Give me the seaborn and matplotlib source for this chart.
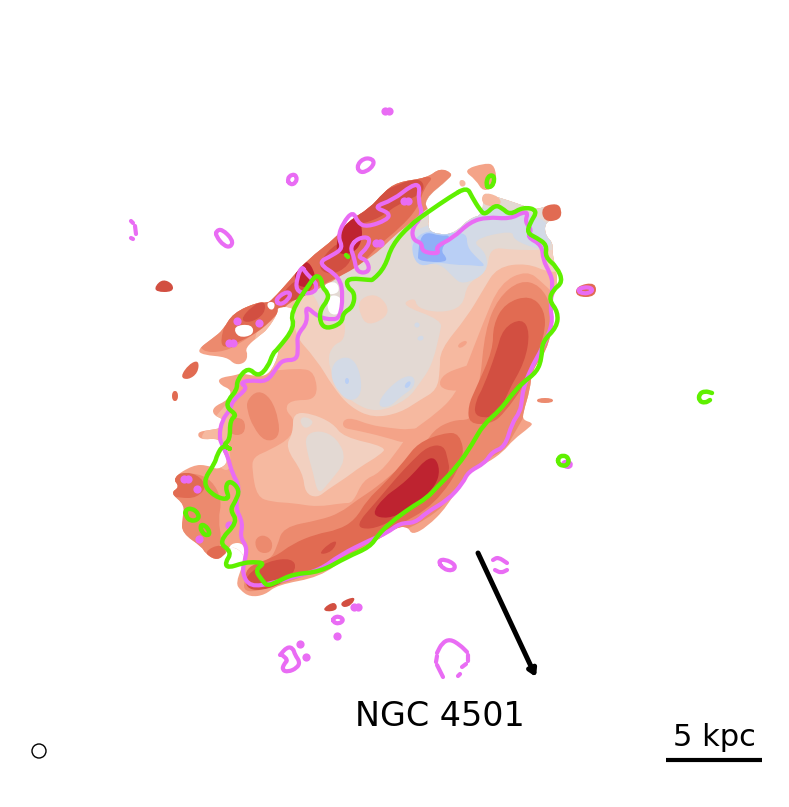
import matplotlib
matplotlib.use("Agg")
import matplotlib.pyplot as plt
from matplotlib.patches import Circle, PathPatch
from matplotlib.path import Path
import seaborn as sns

# cores dos niveis (azul -> vermelho)
B3, B2, B1, N0 = "#8fb0f7", "#b9cff5", "#d3dae6", "#e3d9d3"
W1, W2, W3, W4 = "#f2d0c0", "#f6b9a0", "#f4a388", "#ec8a6e"
W5, W6, W7 = "#e16b52", "#d24f41", "#be2330"
MAGENTA = "#e96cf4"
GREEN = "#5ff000"

# --- contornos (pixels) ---
body = [(197,350),(203,355),(227,357),(235,365),(245,363),(248,355),(245,348),(260,335),(267,330),(278,313),(277,307),
        (293,307),(297,317),(290,330),(278,350),(278,357),(270,373),(260,377),(240,373),(237,375),(218,378),(220,385),
        (232,390),(228,400),(213,407),(213,415),(225,420),(222,428),(210,430),(197,432),(200,440),(220,438),(222,450),
        (229,462),(218,470),(207,465),(193,465),(172,478),(180,487),(170,493),(185,505),(182,520),(182,533),(202,547),
        (205,553),(215,560),(223,557),(232,545),(245,555),(242,567),(236,583),(240,590),(250,597),(265,595),(277,585),
        (320,577),(347,557),(373,543),(397,527),(408,527),(412,535),(427,527),(447,507),(467,473),(487,463),(503,452),
        (513,440),(530,427),(533,423),(523,420),(523,413),(530,390),(532,370),(547,350),(553,323),(548,307),(557,290),
        (557,273),(552,253),(553,243),(545,235),(545,222),(558,218),(560,208),(550,205),(535,210),(527,207),(507,200),
        (490,195),(483,193),(483,215),(470,218),(455,233),(440,235),(427,230),(430,213),(423,200),(450,178),(452,173),
        (440,168),(427,178),(397,182),(383,193),(370,208),(347,222),(337,237),(307,260),(290,280),(272,300),(267,303),
        (258,302),(233,313),(223,330),(213,338)]

w2_main = [(262,372),(300,368),(315,372),(318,400),(290,400),(285,410),(295,420),(292,437),(270,450),(253,457),(252,470),
           (257,497),(272,502),(293,503),(317,507),(343,503),(353,503),(363,480),(380,473),(400,447),(410,432),(437,413),
           (455,395),(465,370),(483,323),(500,283),(527,270),(543,283),(560,300),(570,200),(420,160),(280,290),(250,340)]
w2_rim = [(205,430),(225,405),(232,400),(228,440),(232,470),(220,470),(200,440)]
w1_main = [(317,360),(333,387),(350,407),(373,418),(400,413),(420,400),(437,390),(440,370),(440,350),(467,317),(483,290),
           (497,267),(527,263),(550,273),(570,270),(570,190),(420,165),(300,270),(290,330)]
w1_tongue = [(293,413),(310,413),(333,423),(343,437),(387,447),(380,455),(360,467),(347,477),(327,490),(317,498),(305,493),
             (303,473),(285,447),(293,433)]
n0_main = [(300,280),(420,170),(570,190),(570,250),(543,250),(513,250),(490,247),(487,273),(467,283),(463,307),(440,313),
           (417,308),(415,297),(400,305),(442,320),(440,333),(432,365),(420,383),(407,400),(377,413),(353,403),(337,387),
           (327,360),(333,345),(345,340),(345,318),(333,325),(322,320),(318,300)]
n0_tongue = [(305,435),(320,430),(337,438),(347,460),(328,484),(318,495),(313,472),(307,452)]
n0_dot = [(299,420),(305,416),(315,422),(305,430)]
w1_patch = [(358,300),(375,293),(388,305),(387,317),(368,326),(360,315)]

b1_north = [(412,250),(417,265),(440,263),(453,277),(463,285),(487,273),(487,253),(470,240),(513,230),(513,240),(540,250),
            (553,247),(548,215),(470,205),(430,225),(410,232)]
b1_west = [(335,360),(350,356),(360,370),(362,395),(350,402),(338,392),(330,375)]
b1_east = [(378,407),(382,395),(400,378),(414,375),(415,387),(400,397),(390,407)]
b1_dot_a = [(414,323),(419,322),(420,327),(415,328)]
b1_dot_b = [(417,337),(423,335),(424,340),(418,341)]
b2_north = [(413,240),(412,255),(420,267),(437,262),(455,265),(470,265),(487,267),(477,258),(467,247),(467,233),(450,233),(427,230)]
b2_dot_a = [(345,378),(349,378),(349,384),(345,384)]
b2_dot_b = [(404,385),(410,380),(411,385),(406,389)]
b3_north = [(420,238),(427,232),(440,236),(452,235),(440,250),(447,258),(445,262),(430,262),(418,260),(418,255)]

w3_band = [(343,420),(352,418),(370,425),(390,428),(410,430),(430,425),(410,445),(385,437),(355,430),(343,428)]
w3_patch = [(438,387),(443,374),(465,366),(477,363),(482,386),(455,392)]
w3_dot = [(457,345),(465,340),(468,343),(460,349)]

w4_south = [(250,567),(270,560),(277,547),(283,527),(320,520),(340,513),(357,500),(377,487),(400,467),(420,453),(433,430),
            (453,420),(470,420),(473,410),(480,383),(485,330),(498,298),(520,280),(540,285),(552,307),(555,340),(545,360),
            (530,400),(525,415),(515,432),(505,450),(485,460),(465,480),(445,505),(425,520),(405,530),(375,540),(340,560),
            (320,570),(280,585),(240,595)]
w4_west_a = [(247,400),(258,390),(271,398),(279,420),(279,438),(265,442),(253,427),(247,410)]
w4_west_b = [(229,418),(245,418),(245,435),(229,435)]
w4_spot = [(254,540),(263,534),(273,541),(271,553),(258,553)]
w5_south = [(355,520),(367,500),(385,483),(405,460),(418,443),(443,433),(460,433),(465,460),(435,505),(395,527),(350,552),
            (300,577),(250,590),(243,568),(275,557),(292,544),(316,534),(338,530)]
w5_east = [(530,295),(545,310),(545,335),(528,380),(503,415),(490,424),(469,424),(468,406),(476,388),(493,350),(493,325),(505,303)]
w6_south = [(355,526),(376,502),(397,477),(412,461),(428,446),(444,445),(448,460),(450,472),(434,494),(412,510),(392,521),(370,530)]
w6_east = [(522,318),(530,332),(525,362),(507,393),(500,414),(490,418),(474,416),(476,400),(483,388),(496,353),(503,328)]
w6_base = [(246,575),(268,561),(292,558),(297,569),(282,584),(260,591),(246,588)]
w6_fleck = [(318,555),(328,544),(338,540),(332,552)]
w7_south = [(371,515),(384,497),(400,486),(413,474),(425,460),(435,457),(440,470),(436,485),(421,500),(405,511),(388,519)]

west_w4 = [(170,493),(172,478),(193,472),(212,480),(222,500),(218,520),(222,540),(215,560),(205,553),(182,533),(182,520),(185,505)]
west_w5 = [(168,495),(170,476),(192,471),(208,485),(197,498),(180,498)]
west_w5b = [(203,552),(222,543),(228,556),(215,562)]

fil_w4 = [(200,352),(225,352),(245,340),(268,325),(285,305),(300,296),(322,288),(345,273),(375,255),(395,235),(412,222),
          (425,210),(460,185),(460,165),(380,180),(300,240),(200,335)]
fil_w5 = [(218,350),(240,342),(264,328),(282,308),(304,294),(332,280),(360,266),(380,244),(400,228),(418,208),(424,188),
          (436,174),(385,182),(335,230),(295,258),(262,295),(228,312)]
fil_w6_a = [(240,320),(252,306),(265,300),(265,314),(250,323)]
fil_w6_b = [(276,303),(294,279),(316,276),(309,295),(290,302)]
fil_w6_c = [(316,266),(338,240),(354,248),(349,266),(330,276)]
fil_w6_d = [(355,226),(352,204),(385,190),(420,176),(426,192),(398,204),(380,218)]
fil_w7_a = [(336,245),(340,228),(354,213),(362,224),(362,243),(352,254),(338,254)]
fil_w7_b = [(293,275),(306,258),(316,274),(313,287),(298,287)]

hole_a = [(233,326),(252,324),(254,335),(238,338)]
hole_b = [(267,302),(275,302),(274,310),(268,309)]
hole_c = [(323,284),(337,281),(340,293),(326,295)]
hole_d = [(327,295),(342,296),(342,314),(328,315)]
hole_e = [(230,543),(245,543),(246,564),(237,565),(228,555)]

# ilhas fora do corpo
islands = [
    (W6, [(155,286),(163,279),(173,284),(173,292),(156,292)]),
    (W5, [(172,391),(178,391),(178,401),(172,401)]),
    (W5, [(180,377),(189,364),(199,360),(198,373),(188,380)]),
    (W5, [(576,286),(596,282),(596,297),(576,297)]),
    (W4, [(537,398),(553,398),(553,403),(537,403)]),
    (W6, [(323,608),(335,601),(338,610),(326,612)]),
    (W6, [(340,602),(356,596),(352,605),(343,608)]),
    (W3, [(463,170),(485,163),(495,165),(497,186),(483,192),(476,180)]),
    (W2, [(459,180),(465,180),(466,186),(460,187)]),
    (W2, [(482,192),(499,196),(502,206),(482,206)]),
    (W5, [(541,207),(557,203),(562,210),(560,220),(544,222)]),
]

# linhas verdes
green_main = [(467,187),(472,197),(480,210),(485,215),(495,205),(502,208),(510,215),(523,207),(538,210),(530,223),(527,233),
              (537,238),(547,245),(545,257),(557,267),(563,282),(553,290),(549,300),(558,312),(557,327),(542,342),(542,357),
              (537,372),(522,383),(510,397),(500,410),(483,425),(473,443),(457,467),(437,487),(427,498),(410,508),(390,523),
              (378,535),(370,547),(347,557),(320,572),(293,574),(277,582),(267,586),(262,580),(255,570),(265,563),(253,562),
              (243,563),(228,568),(225,563),(232,552),(218,542),(238,522),(230,510),(235,502),(240,490),(230,480),(225,487),
              (230,500),(215,497),(202,483),(215,463),(217,455),(223,445),(232,450),(223,445),(230,440),(230,420),(237,415),
              (227,408),(228,400),(237,390),(237,380),(248,367),(258,377),(268,367),(273,353),(277,350),(295,327),(290,313),
              (312,280),(317,275),(322,280),(322,287),(328,293),(328,300),(320,310),(320,323),(327,329),(342,323),(343,313),
              (353,307),(355,293),(347,287),(347,278),(370,280),(373,280),(385,267),(392,245),(410,225),(428,212),(450,197),(467,187)]
green_rest = [
    [(486,185),(488,176),(494,175),(494,184),(489,188),(486,185)],
    [(558,458),(563,455),(569,458),(568,465),(562,466),(558,463),(558,458)],
    [(712,393),(705,391),(699,394),(699,401),(705,403),(710,400)],
    [(185,510),(192,508),(199,514),(198,520),(190,521),(186,516),(185,510)],
    [(200,525),(205,525),(210,532),(208,536),(202,533),(200,525)],
    [(346,255),(348,257)],
]

# linhas magenta
magenta_main = [(412,228),(413,240),(422,243),(422,252),(440,254),(435,247),(453,238),(470,222),(487,217),(510,219),(523,212),
                (528,213),(525,222),(532,230),(527,237),(542,245),(543,260),(550,273),(553,283),(550,307),(553,323),(543,347),
                (530,370),(523,390),(522,400),(520,412),(512,423),(505,447),(492,452),(485,463),(468,472),(463,483),(448,500),
                (427,512),(415,523),(400,523),(387,533),(370,540),(340,555),(320,570),(293,577),(273,583),(250,587),(242,573),
                (245,560),(247,547),(240,537),(243,523),(235,507),(240,487),(232,473),(228,457),(223,447),(219,437),(222,420),
                (230,410),(233,400),(248,388),(240,383),(250,380),(267,382),(277,367),(283,360),(297,360),(298,347),(297,335),
                (308,322),(305,305),(318,317),(333,320),(340,317),(343,297),(340,277),(317,263),(333,255),(343,248),(338,237),
                (343,223),(353,211),(358,223),(367,227),(387,220),(390,213),(373,207),(393,200),(412,185),(420,185),(418,200),
                (423,215),(412,228)]
magenta_rest = [
    [(358,238),(370,237),(368,247),(357,257),(367,260),(370,272),(357,273),(354,257),(350,247),(358,238)],
    [(275,300),(285,292),(291,293),(288,300),(280,305),(275,300)],
    [(302,266),(297,278),(296,290),(305,294),(315,292),(317,285),(313,280),(305,272),(302,266)],
    [(357,165),(364,158),(373,159),(374,165),(366,172),(359,172),(357,165)],
    [(287,179),(292,174),(297,176),(296,183),(290,185),(287,179)],
    [(216,231),(222,229),(233,240),(231,247),(224,246),(216,236),(216,231)],
    [(577,290),(584,287),(592,288),(592,292),(583,294),(577,290)],
    [(562,463),(568,461),(572,465),(567,468),(562,463)],
    [(438,561),(445,559),(456,565),(453,571),(443,569),(438,561)],
    [(493,560),(498,557),(507,563)],
    [(495,570),(501,573),(507,570)],
    [(280,655),(287,647),(293,648),(295,655),(300,662),(297,668),(288,672),(282,670),(284,664),(288,660),(282,655)],
    [(333,618),(339,616),(344,620),(339,624),(333,622),(333,618)],
    [(437,653),(442,643),(450,639),(460,645),(467,652)],
    [(468,655),(468,661)],
    [(462,667),(466,664)],
    [(458,676),(460,674)],
    [(437,656),(436,662)],
    [(437,665),(443,677)],
    [(131,221),(133,223)],
    [(135,226),(136,234)],
    [(131,238),(133,239)],
]
magenta_dots = [(237,321),(259,323),(229,343),(233,343),(404,201),(408,201),(376,243),(380,243),(385,111),(389,111),
                (300,644),(306,657),(354,607),(358,607),(337,636),(184,479),(188,479),(197,489),(229,525),(199,539)]

arrow_from = (478,553)
arrow_to = (536,677)
scale_bar_x = [666,762]
scale_bar_y = [760,760]


def caminho_suave(pontos):
    # curva quadratica passando pelos pontos medios, os pontos lidos ficam como controle
    if len(pontos) == 2:
        return Path(pontos, [Path.MOVETO, Path.LINETO])
    fechado = pontos[0] == pontos[-1]
    pts = pontos[:-1] if fechado else pontos
    n = len(pts)
    meio = lambda a, b: ((a[0] + b[0]) / 2, (a[1] + b[1]) / 2)
    if fechado:
        v = [meio(pts[-1], pts[0])]
        c = [Path.MOVETO]
        for i in range(n):
            v += [pts[i], meio(pts[i], pts[(i + 1) % n])]
            c += [Path.CURVE3, Path.CURVE3]
    else:
        v = [pts[0], meio(pts[0], pts[1])]
        c = [Path.MOVETO, Path.LINETO]
        for i in range(1, n - 1):
            v += [pts[i], meio(pts[i], pts[i + 1])]
            c += [Path.CURVE3, Path.CURVE3]
        v.append(pts[-1])
        c.append(Path.LINETO)
    return Path(v, c)


def area(pontos, cor):
    p = PathPatch(caminho_suave(pontos + [pontos[0]]), facecolor=cor, edgecolor="none")
    ax.add_patch(p)
    return p


def desenha_linha(pontos, cor, largura):
    ax.add_patch(PathPatch(caminho_suave(pontos), facecolor="none", edgecolor=cor, lw=largura,
                           capstyle="round", joinstyle="round", zorder=5))


sns.set_theme(style="white")
plt.rcParams['font.family'] = ['DejaVu Sans']

fig, ax = plt.subplots(figsize=(7.89, 8.07), dpi=100)
ax.set_position([0, 0, 1, 1])
ax.set_xlim(0, 789)
ax.set_ylim(807, 0)
ax.axis("off")

# corpo da galaxia, o resto fica recortado nele
body_patch = area(body, W3)

camadas = [
    (W2, w2_main), (W2, w2_rim), (W1, w1_main), (W1, w1_tongue), (N0, n0_main), (N0, n0_tongue), (N0, n0_dot), (W1, w1_patch),
    (B1, b1_north), (B1, b1_west), (B1, b1_east), (B1, b1_dot_a), (B1, b1_dot_b),
    (B2, b2_north), (B2, b2_dot_a), (B2, b2_dot_b), (B3, b3_north),
    (W3, w3_band), (W3, w3_patch), (W3, w3_dot),
    (W4, w4_south), (W4, w4_west_a), (W4, w4_west_b), (W4, w4_spot),
    (W5, w5_south), (W5, w5_east), (W6, w6_south), (W6, w6_east), (W6, w6_base), (W6, w6_fleck), (W7, w7_south),
    (W4, west_w4), (W5, west_w5), (W5, west_w5b),
    (W4, fil_w4), (W5, fil_w5), (W6, fil_w6_a), (W6, fil_w6_b), (W6, fil_w6_c), (W6, fil_w6_d), (W7, fil_w7_a), (W7, fil_w7_b),
    ("white", hole_a), ("white", hole_b), ("white", hole_c), ("white", hole_d), ("white", hole_e),
]
for cor, pontos in camadas:
    area(pontos, cor).set_clip_path(body_patch)

for cor, pontos in islands:
    area(pontos, cor)

desenha_linha(magenta_main, MAGENTA, 3.0)
for linha in magenta_rest:
    desenha_linha(linha, MAGENTA, 3.0)
sns.scatterplot(x=[p[0] for p in magenta_dots], y=[p[1] for p in magenta_dots], color=MAGENTA, s=35,
                linewidth=0, ax=ax, zorder=5)

desenha_linha(green_main, GREEN, 3.2)
for linha in green_rest:
    desenha_linha(linha, GREEN, 3.2)

# seta, escala e rotulos
ax.annotate("", xy=arrow_to, xytext=arrow_from, zorder=6,
            arrowprops=dict(arrowstyle="-|>,head_length=0.5,head_width=0.3", color="black", lw=3.6,
                            shrinkA=0, shrinkB=0, mutation_scale=8))
ax.plot(scale_bar_x, scale_bar_y, color="black", lw=3, solid_capstyle="butt")
ax.add_patch(Circle((39, 751), 7, facecolor="none", edgecolor="black", lw=1))
ax.text(440, 716, "NGC 4501", ha="center", va="center", fontsize=24, color="black")
ax.text(714, 737, "5 kpc", ha="center", va="center", fontsize=22, color="black")

fig.savefig("out.png", dpi=100)
